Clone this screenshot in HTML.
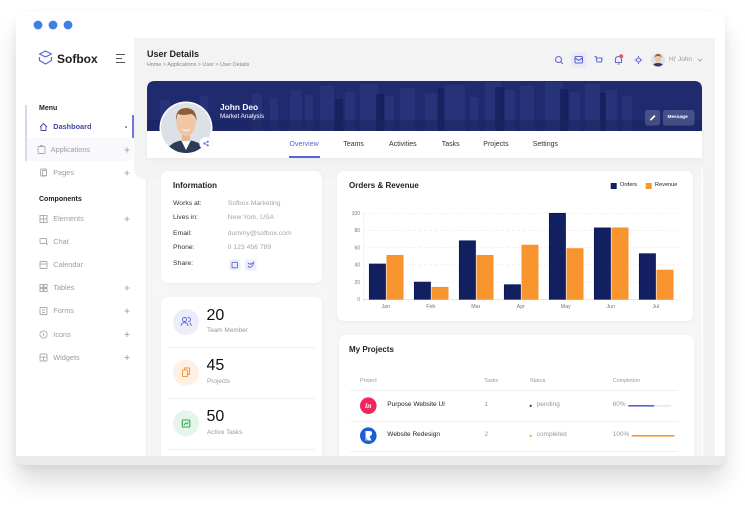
<!DOCTYPE html>
<html><head><meta charset="utf-8">
<style>
*{margin:0;padding:0;box-sizing:border-box}
html,body{width:745px;height:513px;overflow:hidden;background:#fff;font-family:"Liberation Sans",sans-serif}
.a{position:absolute}
.t{position:absolute;white-space:nowrap;line-height:1}
.card{position:absolute;background:#fff;border-radius:7px;box-shadow:0 1px 4px rgba(0,0,0,0.05)}
.sb{font-size:7.3px;color:#9d9d9d}
.lab{font-size:6.8px;color:#333}
.val{font-size:6.8px;color:#a5a5a5}
</style></head><body>
<div class="a" style="left:0;top:0;width:745px;height:513px;overflow:hidden">

<!-- frame -->
<div class="a" style="left:16px;top:12px;width:709px;height:453px;border-radius:9px;background:#fff;box-shadow:0 18px 24px rgba(0,0,0,0.13),0 3px 8px rgba(0,0,0,0.06);overflow:hidden">
  <div class="a" style="left:0;top:444px;width:709px;height:9px;background:#ebebeb"></div>
</div>

<!-- lower main bg -->
<div class="a" style="left:147px;top:150px;width:555px;height:306px;background:#f6f6f6"></div>
<!-- scrollbar strip -->
<div class="a" style="left:703px;top:38px;width:12px;height:418px;background:#f2f2f2"></div>
<!-- sidebar line -->
<div class="a" style="left:146px;top:170px;width:1px;height:286px;background:#ececec"></div>
<!-- header panel -->
<div class="a" style="left:134px;top:38px;width:568px;height:141px;background:#f3f3f3;border-radius:0 0 10px 10px"></div>
<div class="a" style="left:690px;top:38px;width:25px;height:130px;background:#f3f3f3"></div>

<!-- sidebar highlight -->
<div class="a" style="left:25px;top:105px;width:1.5px;height:56px;background:#d6d9f4"></div>
<div class="a" style="left:27px;top:115px;width:106px;height:23px;background:#fff;box-shadow:0 2px 5px rgba(0,0,0,0.05)"></div>
<div class="a" style="left:132px;top:115px;width:2px;height:23px;background:#6f78e0"></div>
<div class="a" style="left:27px;top:139px;width:106px;height:22px;background:#f8f8fd"></div>

<!-- tab bar -->
<div class="a" style="left:147px;top:125px;width:555px;height:33px;background:#fff;box-shadow:0 2px 5px rgba(0,0,0,0.04)"></div>

<!-- cards -->
<div class="card" style="left:161px;top:171px;width:161px;height:112px"></div>
<div class="card" style="left:337px;top:171px;width:356px;height:150px"></div>
<div class="card" style="left:161px;top:297px;width:161px;height:165px"></div>
<div class="card" style="left:339px;top:335px;width:355px;height:127px"></div>

<!-- dividers -->
<div class="a" style="left:167px;top:347px;width:149px;height:1px;background:#f0f0f0"></div>
<div class="a" style="left:167px;top:398px;width:149px;height:1px;background:#f0f0f0"></div>
<div class="a" style="left:167px;top:449px;width:149px;height:1px;background:#f0f0f0"></div>
<div class="a" style="left:350px;top:390px;width:328px;height:1px;background:#f0f0f0"></div>
<div class="a" style="left:350px;top:421px;width:328px;height:1px;background:#f0f0f0"></div>
<div class="a" style="left:350px;top:451px;width:328px;height:1px;background:#f0f0f0"></div>

<svg class="a" style="left:0;top:0" width="745" height="513" viewBox="0 0 745 513">
  <defs>
    <clipPath id="bc"><path d="M147,131 V89 Q147,81 155,81 H694 Q702,81 702,89 V131 Z"/></clipPath>
    <clipPath id="av"><circle cx="186" cy="128" r="25"/></clipPath>
    <clipPath id="av2"><circle cx="658" cy="60" r="6.5"/></clipPath>
  </defs>
  <!-- window dots -->
  <circle cx="38" cy="25" r="4.4" fill="#3f7fe6"/>
  <circle cx="53" cy="25" r="4.4" fill="#3f7fe6"/>
  <circle cx="68" cy="25" r="4.4" fill="#3f7fe6"/>

  <!-- logo -->
  <g fill="none" stroke="#5a64d8" stroke-width="1.2" stroke-linejoin="round">
    <path d="M45.5,51 L51.5,54 L45.5,57 L39.5,54 Z"/>
    <path d="M39.5,57 L39.5,60.5 L45.5,64 L51.5,60.5 L51.5,57"/>
  </g>
  <!-- hamburger -->
  <g stroke="#555" stroke-width="1">
    <line x1="116" y1="54.5" x2="125" y2="54.5"/>
    <line x1="116" y1="58.5" x2="122" y2="58.5"/>
    <line x1="116" y1="62.5" x2="125" y2="62.5"/>
  </g>

  <!-- sidebar icons -->
  <g fill="none" stroke="#3f4a9f" stroke-width="0.9">
    <path d="M40,127 L43.5,123.5 L47,127 M41,126.5 V130.5 H46 V126.5"/>
  </g>
  <g fill="none" stroke="#aaa" stroke-width="0.9">
    <rect x="38" y="146.5" width="7" height="7" rx="1"/><line x1="40" y1="145.5" x2="43" y2="145.5"/>
    <rect x="40.5" y="169" width="6" height="7" rx="1"/><rect x="42.5" y="170.5" width="4" height="5"/>
    <rect x="40" y="215.5" width="7" height="7"/><line x1="40" y1="219" x2="47" y2="219"/><line x1="43.5" y1="215.5" x2="43.5" y2="222.5"/>
    <rect x="40" y="238.5" width="6.5" height="5" rx="1"/><line x1="46.5" y1="243" x2="47.5" y2="245"/>
    <rect x="40" y="261.5" width="7" height="7" rx="1"/><line x1="40" y1="264" x2="47" y2="264"/>
    <rect x="40" y="284.5" width="3" height="3"/><rect x="44" y="284.5" width="3" height="3"/><rect x="40" y="288.5" width="3" height="3"/><rect x="44" y="288.5" width="3" height="3"/>
    <rect x="40" y="307.5" width="7" height="7" rx="1"/><line x1="42" y1="310" x2="45" y2="310"/><line x1="42" y1="312.5" x2="45" y2="312.5"/>
    <circle cx="43.5" cy="334.5" r="3.6"/><line x1="43.5" y1="333" x2="43.5" y2="336"/>
    <rect x="40" y="354" width="7" height="7" rx="1"/><line x1="40" y1="357" x2="47" y2="357"/><line x1="43.5" y1="357" x2="43.5" y2="361"/>
  </g>
  <g stroke="#999" stroke-width="0.8">
    <path d="M124.5,150 h5 M127,147.5 v5"/>
    <path d="M124.5,173 h5 M127,170.5 v5"/>
    <path d="M124.5,219 h5 M127,216.5 v5"/>
    <path d="M124.5,288 h5 M127,285.5 v5"/>
    <path d="M124.5,311 h5 M127,308.5 v5"/>
    <path d="M124.5,334.5 h5 M127,332 v5"/>
    <path d="M124.5,357.5 h5 M127,355 v5"/>
  </g>
  <circle cx="126" cy="127" r="0.9" fill="#3f4a9f"/>

  <!-- header icons -->
  <g fill="none" stroke="#6068d6" stroke-width="1.1">
    <circle cx="558.5" cy="59.5" r="3"/><line x1="560.8" y1="61.8" x2="562.8" y2="63.8"/>
  </g>
  <rect x="571" y="52" width="15.5" height="16" rx="3" fill="#e9eaf7"/>
  <g fill="none" stroke="#6068d6" stroke-width="1.1">
    <rect x="575" y="56.5" width="7.5" height="6.5" rx="1"/><path d="M575,58 L578.75,60.5 L582.5,58"/>
    <path d="M594.5,56.5 H596 L597,62 H601.5 L602,58 H596.5"/>
    <path d="M615.5,62.5 V59.5 Q615.5,56.5 618.5,56.5 Q621.5,56.5 621.5,59.5 V62.5 Z M617.5,64 H619.5"/>
    <circle cx="638.5" cy="60" r="2"/><path d="M638.5,56 V57.3 M638.5,62.7 V64 M634.5,60 H635.8 M641.2,60 H642.5"/>
  </g>
  <circle cx="621.2" cy="56.3" r="2" fill="#f0506e"/>
  <circle cx="658" cy="60" r="7" fill="#dfe3e8"/>
  <g clip-path="url(#av2)">
    <ellipse cx="658" cy="59" rx="3" ry="3.8" fill="#eec3a2"/>
    <path d="M654.5,58 Q655,54 658,54 Q661.5,54 661.5,58 Q660,55.5 658,56 Q656,55.5 654.5,58 Z" fill="#8a5a35"/>
    <path d="M651,68 Q652,63 658,63 Q664,63 665,68 Z" fill="#2f3b5e"/>
  </g>
  <path d="M698,59 L700,61 L702,59" fill="none" stroke="#999" stroke-width="0.8"/>

  <!-- banner -->
  <g clip-path="url(#bc)">
    <rect x="147" y="81" width="555" height="50" fill="#1f2a6f"/>
    <g fill="#2a357c" opacity="0.85">
      <rect x="160" y="100" width="10" height="31"/><rect x="200" y="96" width="8" height="35"/>
      <rect x="252" y="94" width="10" height="37"/><rect x="270" y="98" width="8" height="33"/>
      <rect x="290" y="90" width="12" height="41"/><rect x="305" y="95" width="8" height="36"/>
      <rect x="320" y="86" width="14" height="45"/><rect x="345" y="92" width="10" height="39"/>
      <rect x="360" y="84" width="18" height="47"/><rect x="385" y="96" width="9" height="35"/>
      <rect x="400" y="88" width="15" height="43"/><rect x="425" y="93" width="12" height="38"/>
      <rect x="445" y="85" width="20" height="46"/><rect x="470" y="97" width="8" height="34"/>
      <rect x="485" y="82" width="16" height="49"/><rect x="505" y="90" width="10" height="41"/>
      <rect x="520" y="86" width="14" height="45"/><rect x="545" y="82" width="18" height="49"/>
      <rect x="570" y="92" width="10" height="39"/><rect x="585" y="84" width="15" height="47"/>
      <rect x="605" y="90" width="12" height="41"/><rect x="622" y="96" width="10" height="35"/>
    </g>
    <g fill="#17205c" opacity="0.8">
      <rect x="376" y="94" width="8" height="37"/><rect x="438" y="88" width="6" height="43"/>
      <rect x="495" y="87" width="9" height="44"/><rect x="560" y="89" width="8" height="42"/>
      <rect x="600" y="93" width="6" height="38"/><rect x="335" y="99" width="8" height="32"/>
    </g>
    <rect x="147" y="120" width="555" height="11" fill="#1a245f" opacity="0.5"/>
  </g>
  <!-- banner buttons -->
  <rect x="645" y="110" width="15" height="15.5" rx="2.5" fill="#ffffff" fill-opacity="0.18"/>
  <path d="M650,120.5 L650.3,119 L654.3,115 L655.5,116.2 L651.5,120.2 Z" fill="#fff"/>
  <rect x="663" y="110" width="31.5" height="15.5" rx="2.5" fill="#ffffff" fill-opacity="0.18"/>

  <!-- avatar -->
  <circle cx="186" cy="128" r="26.5" fill="#fff"/>
  <g clip-path="url(#av)">
    <rect x="160" y="102" width="52" height="52" fill="#dce1e7"/>
    <path d="M166,154 Q168,141 186,140 Q204,141 206,154 Z" fill="#2d3a58"/>
    <path d="M181,140 L186,150 L191,140 Z" fill="#fff"/>
    <rect x="182" y="133" width="8" height="8" fill="#e8b896"/>
    <ellipse cx="186" cy="124" rx="9.5" ry="12" fill="#f1c6a4"/>
    <path d="M176,122 Q175,108 186,108 Q197,108 196.5,122 Q195,114 190,114 Q184,116 178,114 Q176.5,117 176,122 Z" fill="#8f5e36"/>
    <path d="M181,129 Q186,133 191,129 Q186,131 181,129 Z" fill="#fff"/>
  </g>
  <circle cx="206" cy="143.5" r="6.5" fill="#fff" stroke="#eee" stroke-width="0.5"/>
  <g fill="#5a64d8"><circle cx="204.3" cy="143.5" r="1"/><circle cx="207.8" cy="141.6" r="1"/><circle cx="207.8" cy="145.4" r="1"/></g>
  <path d="M204.3,143.5 L207.8,141.6 M204.3,143.5 L207.8,145.4" stroke="#5a64d8" stroke-width="0.6"/>

  <!-- tab underline -->
  <rect x="289" y="156" width="31" height="2" fill="#5a64d8"/>

  <!-- info share icons -->
  <rect x="229" y="259.5" width="11.5" height="11" rx="2" fill="#eceefb"/>
  <rect x="245" y="259.5" width="11.5" height="11" rx="2" fill="#eceefb"/>
  <rect x="232" y="262.3" width="5.5" height="5.5" rx="0.8" fill="none" stroke="#5a64d8" stroke-width="0.9"/>
  <path d="M248,263 Q250.5,265.5 253.5,262.5 Q253,266.5 250,267.5 Q248.5,267 248,266" fill="none" stroke="#5a64d8" stroke-width="0.9"/>

  <!-- chart -->
  <rect x="610.7" y="183" width="6" height="6" fill="#121f60"/>
  <rect x="645.7" y="183" width="6" height="6" fill="#f9952f"/>
  <g stroke="#ececec" stroke-width="0.7" stroke-dasharray="3,2.5">
    <line x1="363.3" y1="213.3" x2="678.5" y2="213.3"/>
    <line x1="363.3" y1="230.5" x2="678.5" y2="230.5"/>
    <line x1="363.3" y1="247.7" x2="678.5" y2="247.7"/>
    <line x1="363.3" y1="264.9" x2="678.5" y2="264.9"/>
    <line x1="363.3" y1="282.1" x2="678.5" y2="282.1"/>
  </g>
  <line x1="363.3" y1="299.5" x2="678.5" y2="299.5" stroke="#e2e2e2" stroke-width="0.7"/>
  <line x1="363.3" y1="213" x2="363.3" y2="299.5" stroke="#ececec" stroke-width="0.6"/>
  <g stroke="#e2e2e2" stroke-width="0.6">
    <line x1="363.3" y1="299.5" x2="363.3" y2="302"/><line x1="408.3" y1="299.5" x2="408.3" y2="302"/>
    <line x1="453.3" y1="299.5" x2="453.3" y2="302"/><line x1="498.3" y1="299.5" x2="498.3" y2="302"/>
    <line x1="543.3" y1="299.5" x2="543.3" y2="302"/><line x1="588.3" y1="299.5" x2="588.3" y2="302"/>
    <line x1="633.3" y1="299.5" x2="633.3" y2="302"/><line x1="678.3" y1="299.5" x2="678.3" y2="302"/>
  </g>
  <g fill="#121f60" stroke="#0b1550" stroke-width="0.7">
    <rect x="369.3" y="264.0" width="16.2" height="35.3"/>
    <rect x="414.3" y="282.1" width="16.2" height="17.2"/>
    <rect x="459.3" y="240.8" width="16.2" height="58.5"/>
    <rect x="504.3" y="284.7" width="16.2" height="14.6"/>
    <rect x="549.3" y="213.3" width="16.2" height="86"/>
    <rect x="594.3" y="227.9" width="16.2" height="71.4"/>
    <rect x="639.3" y="253.7" width="16.2" height="45.6"/>
  </g>
  <g fill="#f9952f" stroke="#f58a20" stroke-width="0.7">
    <rect x="386.9" y="255.4" width="16.2" height="43.9"/>
    <rect x="431.9" y="287.3" width="16.2" height="12"/>
    <rect x="476.9" y="255.4" width="16.2" height="43.9"/>
    <rect x="521.9" y="245.1" width="16.2" height="54.2"/>
    <rect x="566.9" y="248.6" width="16.2" height="50.7"/>
    <rect x="611.9" y="227.9" width="16.2" height="71.4"/>
    <rect x="656.9" y="270.1" width="16.2" height="29.2"/>
  </g>
  <g font-family="Liberation Sans, sans-serif" font-size="5" fill="#777" text-anchor="end">
    <text x="360" y="215">100</text><text x="360" y="232.2">80</text><text x="360" y="249.4">60</text>
    <text x="360" y="266.6">40</text><text x="360" y="283.8">20</text><text x="360" y="301">0</text>
  </g>
  <g font-family="Liberation Sans, sans-serif" font-size="5.3" fill="#777" text-anchor="middle">
    <text x="385.8" y="308">Jan</text><text x="430.8" y="308">Feb</text><text x="475.8" y="308">Mar</text>
    <text x="520.8" y="308">Apr</text><text x="565.8" y="308">May</text><text x="610.8" y="308">Jun</text>
    <text x="655.8" y="308">Jul</text>
  </g>

  <!-- stats icons -->
  <circle cx="186" cy="322" r="13" fill="#ecedfb"/>
  <circle cx="186" cy="372.7" r="13" fill="#fff0e5"/>
  <circle cx="186" cy="423.3" r="13" fill="#e5f5e9"/>
  <g fill="none" stroke="#5a64d8" stroke-width="0.9">
    <circle cx="184.5" cy="319.5" r="2"/><path d="M181,326 Q181.5,322.5 184.5,322.5 Q187.5,322.5 188,326"/>
    <path d="M187.5,317.8 A2,2 0 1 1 188,321.5 M189.5,323 Q191,323.5 191.2,326"/>
  </g>
  <g fill="none" stroke="#f7953a" stroke-width="1">
    <rect x="182.5" y="370" width="5" height="6.5" rx="0.6"/><path d="M184.5,370 V368 H189.5 V374.5 H187.5"/>
  </g>
  <rect x="182.3" y="420" width="7.5" height="7" rx="0.8" fill="none" stroke="#2ea64e" stroke-width="1.1"/>
  <path d="M183.8,425 L185.8,423 L187,424 L188.5,422" fill="none" stroke="#2ea64e" stroke-width="0.9"/>

  <!-- project icons -->
  <circle cx="368.3" cy="405.7" r="8.3" fill="#f1265b"/>
  <text x="368.3" y="408.2" font-family="Liberation Serif, serif" font-style="italic" font-weight="bold" font-size="7.5" fill="#fff" text-anchor="middle">in</text>
  <circle cx="368.3" cy="435.7" r="8.3" fill="#1f5dd4"/>
  <path d="M365.5,431 H369.5 Q372.5,431 372,434 Q371.5,436 369.5,436 L371.5,440.5 H367.5 L366.5,437 V440.5 H365.5 Z" fill="#fff"/>
  <circle cx="530.7" cy="405.8" r="1.1" fill="#1c2a8f"/>
  <circle cx="530.7" cy="435.8" r="1.1" fill="#f7953a"/>
  <rect x="628.3" y="405" width="42.7" height="1.6" fill="#e6e8ef"/>
  <rect x="628.3" y="405" width="25.7" height="1.6" fill="#5a64d8"/>
  <rect x="631.7" y="435" width="42.7" height="1.6" fill="#f7953a"/>
</svg>

<!-- SIDEBAR TEXT -->
<div class="t" style="left:57px;top:52.5px;font-size:12px;font-weight:bold;color:#1d1d1d">Sofbox</div>
<div class="t" style="left:39px;top:104.5px;font-size:7px;font-weight:bold;color:#222">Menu</div>
<div class="t" style="left:53.3px;top:123px;font-size:7.3px;color:#3f4a9f;font-weight:bold">Dashboard</div>
<div class="t sb" style="left:50.7px;top:146px">Applications</div>
<div class="t sb" style="left:53.3px;top:169px">Pages</div>
<div class="t" style="left:39px;top:195.5px;font-size:7px;font-weight:bold;color:#222">Components</div>
<div class="t sb" style="left:53.3px;top:215.3px">Elements</div>
<div class="t sb" style="left:53.3px;top:238.3px">Chat</div>
<div class="t sb" style="left:53.3px;top:261.3px">Calendar</div>
<div class="t sb" style="left:53.3px;top:284.3px">Tables</div>
<div class="t sb" style="left:53.3px;top:307.3px">Forms</div>
<div class="t sb" style="left:53.3px;top:330.5px">Icons</div>
<div class="t sb" style="left:53.3px;top:353.5px">Widgets</div>

<!-- HEADER TEXT -->
<div class="t" style="left:147px;top:49.7px;font-size:9px;font-weight:bold;color:#222">User Details</div>
<div class="t" style="left:147px;top:63.3px;font-size:5.4px;color:#888">Home &gt; Applications &gt; User &gt; User Details</div>
<div class="t" style="left:669px;top:56.7px;font-size:6.4px;color:#999">Hi' John</div>

<!-- BANNER TEXT -->
<div class="t" style="left:220px;top:103.3px;font-size:8.4px;font-weight:bold;color:#fff">John Deo</div>
<div class="t" style="left:220px;top:114.2px;font-size:6.3px;color:#fff">Market Analysis</div>
<div class="t" style="left:667.5px;top:115.5px;font-size:4.8px;font-weight:bold;color:#fff">Message</div>
<div class="t" style="left:289.5px;top:141.3px;font-size:7px;color:#5a64d8">Overview</div>
<div class="t" style="left:343.3px;top:141.3px;font-size:7px;color:#333">Teams</div>
<div class="t" style="left:389px;top:141.3px;font-size:7px;color:#333">Activities</div>
<div class="t" style="left:441.7px;top:141.3px;font-size:7px;color:#333">Tasks</div>
<div class="t" style="left:483.3px;top:141.3px;font-size:7px;color:#333">Projects</div>
<div class="t" style="left:532.7px;top:141.3px;font-size:7px;color:#333">Settings</div>

<!-- INFO -->
<div class="t" style="left:173px;top:182px;font-size:8px;font-weight:bold;color:#222">Information</div>
<div class="t lab" style="left:173px;top:200.7px">Works at:</div>
<div class="t lab" style="left:173px;top:215.4px">Lives in:</div>
<div class="t lab" style="left:173px;top:230.7px">Email:</div>
<div class="t lab" style="left:173px;top:245.4px">Phone:</div>
<div class="t lab" style="left:173px;top:260.7px">Share:</div>
<div class="t val" style="left:227.7px;top:200.7px">Sofbox Marketing</div>
<div class="t val" style="left:227.7px;top:215.4px">New York, USA</div>
<div class="t val" style="left:227.7px;top:230.7px">dummy@sofbox.com</div>
<div class="t val" style="left:227.7px;top:245.4px">0 123 456 789</div>

<!-- CHART TEXT -->
<div class="t" style="left:349px;top:182px;font-size:8px;font-weight:bold;color:#222">Orders &amp; Revenue</div>
<div class="t" style="left:620px;top:183.3px;font-size:5.6px;color:#222">Orders</div>
<div class="t" style="left:655px;top:183.3px;font-size:5.6px;color:#222">Revenue</div>

<!-- STATS -->
<div class="t" style="left:206.5px;top:307.7px;font-size:16px;color:#111">20</div>
<div class="t" style="left:207px;top:328.3px;font-size:6.4px;color:#9a9a9a">Team Member</div>
<div class="t" style="left:206.5px;top:358.4px;font-size:16px;color:#111">45</div>
<div class="t" style="left:207px;top:379px;font-size:6.4px;color:#9a9a9a">Projects</div>
<div class="t" style="left:206.5px;top:409px;font-size:16px;color:#111">50</div>
<div class="t" style="left:207px;top:429.7px;font-size:6.4px;color:#9a9a9a">Active Tasks</div>

<!-- PROJECTS -->
<div class="t" style="left:349px;top:346.3px;font-size:8px;font-weight:bold;color:#222">My Projects</div>
<div class="t" style="left:360px;top:378.8px;font-size:5.4px;color:#999">Project</div>
<div class="t" style="left:484.3px;top:378.8px;font-size:5.4px;color:#999">Tasks</div>
<div class="t" style="left:530px;top:378.8px;font-size:5.4px;color:#999">Status</div>
<div class="t" style="left:612.7px;top:378.8px;font-size:5.4px;color:#999">Completion</div>
<div class="t" style="left:387.3px;top:402.2px;font-size:6.5px;color:#222">Purpose Website UI</div>
<div class="t" style="left:484.5px;top:402.2px;font-size:6.5px;color:#999">1</div>
<div class="t" style="left:536.7px;top:402.2px;font-size:6.5px;color:#999">pending</div>
<div class="t" style="left:612.7px;top:402.2px;font-size:6.5px;color:#999">60%</div>
<div class="t" style="left:387.3px;top:432.2px;font-size:6.5px;color:#222">Website Redesign</div>
<div class="t" style="left:484.5px;top:432.2px;font-size:6.5px;color:#999">2</div>
<div class="t" style="left:536.7px;top:432.2px;font-size:6.5px;color:#999">completed</div>
<div class="t" style="left:612.7px;top:432.2px;font-size:6.5px;color:#999">100%</div>

<!-- bottom band on top -->
<div class="a" style="left:16px;top:456px;width:709px;height:9px;background:#ebebeb;border-radius:0 0 9px 9px"></div>
</div>
</body></html>
